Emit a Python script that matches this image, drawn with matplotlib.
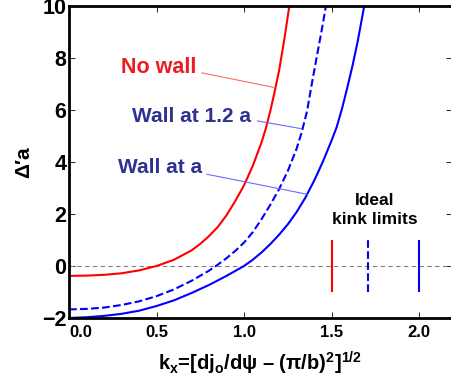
import numpy as np
import matplotlib
matplotlib.use('Agg')
import matplotlib.pyplot as plt

# curves
x_nowall = [0.0, 0.1, 0.2, 0.3, 0.4, 0.5, 0.6, 0.7, 0.75, 0.8, 0.85, 0.9, 0.95, 1.0,
            1.05, 1.1, 1.125, 1.15, 1.175, 1.2, 1.23, 1.259]
y_nowall = [-0.38, -0.37, -0.34, -0.28, -0.17, 0.0, 0.24, 0.6, 0.85, 1.15, 1.5, 1.95, 2.5, 3.1,
            3.85, 4.75, 5.3, 5.95, 6.7, 7.5, 8.7, 10.0]

x_wall12 = [0.0, 0.1, 0.2, 0.3, 0.4, 0.5, 0.6, 0.7, 0.8, 0.85, 0.9, 0.95, 1.0, 1.05, 1.1,
            1.15, 1.2, 1.25, 1.3, 1.33, 1.36, 1.39, 1.42, 1.445, 1.468]
y_wall12 = [-1.67, -1.65, -1.6, -1.5, -1.36, -1.16, -0.9, -0.57, -0.18, 0.05, 0.3, 0.58, 0.9, 1.3, 1.8,
            2.35, 2.95, 3.65, 4.5, 5.15, 5.95, 7.1, 8.2, 9.1, 10.0]

x_wall = [0.0, 0.1, 0.2, 0.3, 0.4, 0.5, 0.6, 0.7, 0.8, 0.9, 1.0, 1.05, 1.1, 1.15, 1.2, 1.25,
          1.3, 1.35, 1.4, 1.45, 1.5, 1.53, 1.56, 1.59, 1.62, 1.65, 1.687]
y_wall = [-2.0, -1.97, -1.92, -1.84, -1.72, -1.54, -1.32, -1.04, -0.73, -0.38, 0.0, 0.24, 0.52, 0.84, 1.2, 1.6,
          2.07, 2.62, 3.27, 4.0, 4.82, 5.35, 6.05, 6.85, 7.7, 8.65, 10.0]

# ideal kink limits
kink_x = [1.5, 1.71, 2.0]
kink_ymin = -1.0
kink_ymax = 1.0

# labels and where their leader lines go
labels = ['No wall', 'Wall at 1.2 a', 'Wall at a']
label_pos = [(0.73, 7.63), (1.04, 5.74), (0.76, 3.77)]
leader_from = [(0.758, 7.43), (1.076, 5.58), (0.787, 3.53)]
leader_to = [(1.177, 6.86), (1.329, 5.28), (1.36, 2.76)]

xticks = [0.0, 0.5, 1.0, 1.5, 2.0]
yticks = [-2, 0, 2, 4, 6, 8, 10]

fam = ['Liberation Sans', 'DejaVu Sans']
plt.rcParams['font.family'] = fam
plt.rcParams['font.weight'] = 'bold'
plt.rcParams['mathtext.fontset'] = 'custom'
plt.rcParams['mathtext.rm'] = 'Liberation Sans:bold'
plt.rcParams['mathtext.it'] = 'Liberation Sans:bold'
plt.rcParams['mathtext.bf'] = 'Liberation Sans:bold'

red = '#ff0000'
blue = '#0000ff'
red_txt = '#ec1c24'
blue_txt = '#2e3192'

fig = plt.figure(figsize=(4.51, 3.85), dpi=100)
ax = fig.add_axes([69/451, 67/385, (452-69)/451, 312/385])

ax.axhline(0, color='#808080', ls='--', lw=0.8, dashes=(4, 3))

ax.plot(x_nowall, y_nowall, color=red, lw=1.5)
ax.plot(x_wall12, y_wall12, color=blue, lw=1.5, ls='--')
ax.plot(x_wall, y_wall, color=blue, lw=1.5)

kink_col = [red, blue, blue]
kink_ls = ['-', '--', '-']
for kx, c, ls in zip(kink_x, kink_col, kink_ls):
    ax.vlines(kx, kink_ymin, kink_ymax, colors=c, linestyles=ls, lw=1.5)

txt_cols = [red_txt, blue_txt, blue_txt]
txt_size = [15.5, 15, 15]
line_cols = ['#ff6a6a', '#6a6aff', '#6a6aff']
for lab, pos, p0, p1, tc, ts, lc in zip(labels, label_pos, leader_from, leader_to, txt_cols, txt_size, line_cols):
    ax.text(pos[0], pos[1], lab, color=tc, fontsize=ts, fontweight='bold',
            ha='right', va='center')
    ax.annotate('', xy=p1, xytext=p0,
                arrowprops=dict(arrowstyle='-', color=lc, lw=0.8, shrinkA=0, shrinkB=0))

ax.text(1.749, 2.15, 'Ideal\nkink limits', fontsize=12.5, fontweight='bold',
        ha='center', va='center', linespacing=1.35)

ax.set_xlim(0, (452-69)/175)
ax.set_ylim(-2, 10)
ax.set_xticks(xticks)
ax.set_xticklabels(['%.1f' % v for v in xticks], fontsize=12, fontweight='bold')
ax.get_xticklabels()[0].set_ha('left')
ax.set_yticks(yticks)
ax.set_yticklabels([str(v).replace('-', '\u2212') for v in yticks], fontsize=15.5, fontweight='bold')
ax.tick_params(direction='in', top=True, right=True, length=4, width=0.6)
ax.tick_params(axis='x', pad=5)
ax.tick_params(axis='y', pad=2)
for s in ax.spines.values():
    s.set_linewidth(2)

ax.set_ylabel('\u0394\u2032a', fontsize=15, fontweight='bold', labelpad=6)
xlab = r'$\mathrm{k_x}$=[dj$_\mathrm{o}$/d$\psi$ ' + '\u2013' + r' ($\pi$/b)$^\mathrm{2}$]$^\mathrm{1/2}$'
ax.set_xlabel(xlab, fontsize=14.5, fontweight='bold', labelpad=7)

fig.savefig('out.png', dpi=100)
